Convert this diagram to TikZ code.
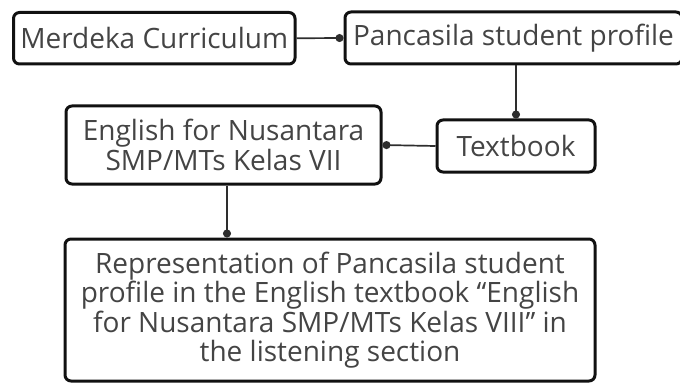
\documentclass[tikz,border=0pt]{standalone}
\usepackage{fontspec}
\setmainfont{Open Sans}
\usetikzlibrary{arrows.meta,calc}
\definecolor{txt}{HTML}{444444}
\definecolor{bord}{HTML}{111111}
\definecolor{conn}{HTML}{2E2E2E}
\begin{document}
\begin{tikzpicture}[x=1pt,y=-1pt,
  box/.style={draw=bord,line width=3pt,rounded corners=6pt,inner sep=0pt,
    text=txt,align=center,font=\fontsize{28}{29.5}\selectfont},
  link/.style={draw=conn,line width=1.7pt,-{Circle[length=8pt,width=8pt]}}]
\useasboundingbox (0,0) rectangle (680,385);
\node[box,minimum width=281.5pt,minimum height=51.5pt] (mc) at (154.25,38.25) {Merdeka Curriculum};
\node[box,minimum width=337pt,minimum height=52pt] (psp) at (513.5,38) {Pancasila student profile};
\node[box,minimum width=158pt,minimum height=52pt] (tb) at (516,146) {Textbook};
\node[box,minimum width=315pt,minimum height=78pt] (eng) at (223.5,145) {English for Nusantara\\SMP/MTs Kelas VII};
\node[box,minimum width=530pt,minimum height=142pt] (fin) at (330,310) {Representation of Pancasila student\\profile in the English textbook “English\\for Nusantara SMP/MTs Kelas VIII” in\\the listening section};
\draw[link] (mc.east) -- (psp.west);
\draw[link] (tb.north |- psp.south) -- (tb.north);
\draw[link] (tb.west) -- (eng.east);
\coordinate (engdown) at ($(eng.south)+(3.5,0)$);
\draw[link] (engdown) -- (engdown |- fin.north);
\end{tikzpicture}
\end{document}
